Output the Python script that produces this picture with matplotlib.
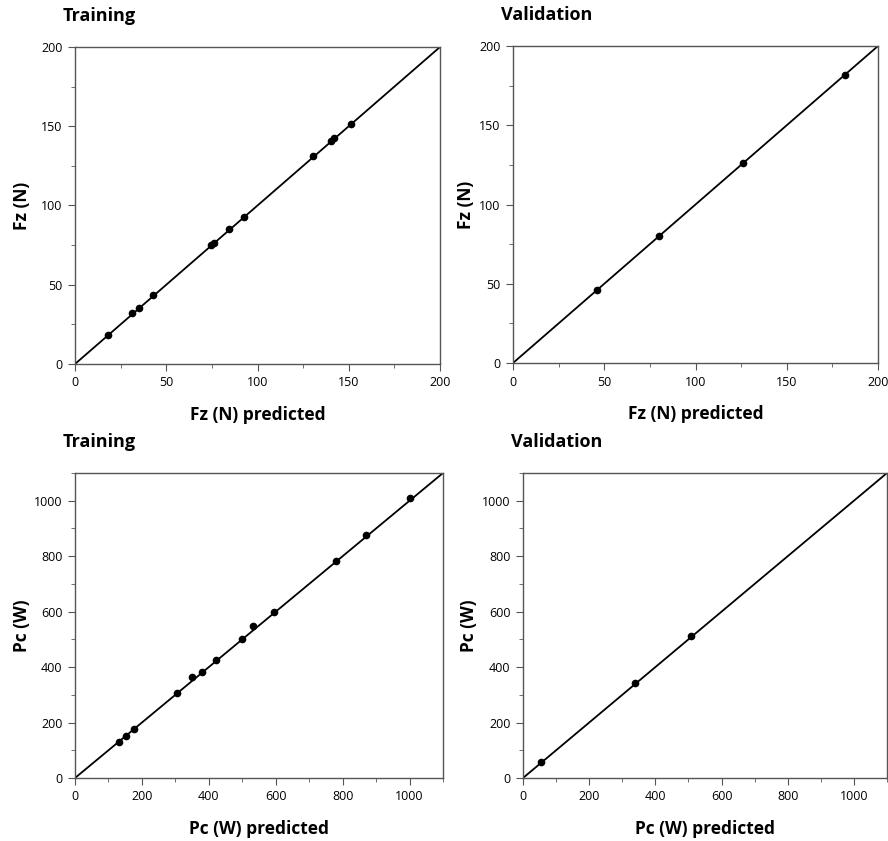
import matplotlib
matplotlib.use("Agg")
import matplotlib.pyplot as plt
from matplotlib.ticker import MultipleLocator

plt.rcParams['font.family'] = ['Open Sans', 'DejaVu Sans']

# Fz training / validation (predicted vs actual)
fz_train_pred = [18, 31, 35, 43, 74.5, 76, 84.5, 92.5, 130.5, 140, 142, 151]
fz_train_act = [18.5, 32, 35.5, 43.5, 75, 76.5, 85, 93, 131, 140.5, 142.5, 151.5]
fz_val_pred = [46, 80, 126, 182]
fz_val_act = [46, 80, 126, 182]

# Pc training / validation
pc_train_pred = [132, 153, 175, 306, 350, 380, 421, 499, 533, 595, 779, 871, 1001]
pc_train_act = [131, 153, 176, 308, 363, 381, 424, 501, 549, 598, 784, 876, 1010]
pc_val_pred = [54, 338, 509]
pc_val_act = [57, 341, 512]

fig = plt.figure(figsize=(8.88, 8.41), dpi=100)

W, H = 888.0, 841.0
panels = [
    # (left, top, right, bottom) in px, ylabel right edge px, pred, act, lim, major, minor, title, var
    ((75, 47, 440, 364), 31, fz_train_pred, fz_train_act, 200, 50, 25, "Training", "Fz (N)"),
    ((513, 46, 878, 363), 475, fz_val_pred, fz_val_act, 200, 50, 25, "Validation", "Fz (N)"),
    ((75, 473, 443, 778), 31, pc_train_pred, pc_train_act, 1100, 200, 100, "Training", "Pc (W)"),
    ((523, 473, 887, 778), 478, pc_val_pred, pc_val_act, 1100, 200, 100, "Validation", "Pc (W)"),
]

for (l, t, r, b), ylx, xp, ya, lim, maj, mnr, title, var in panels:
    ax = fig.add_axes([l / W, 1 - b / H, (r - l) / W, (b - t) / H])
    ax.plot([0, lim], [0, lim], color='black', lw=1.3, zorder=2)
    ax.plot(xp, ya, 'o', color='black', ms=4.5, zorder=3)
    ax.set_xlim(0, lim)
    ax.set_ylim(0, lim)
    ax.xaxis.set_major_locator(MultipleLocator(maj))
    ax.xaxis.set_minor_locator(MultipleLocator(mnr))
    ax.yaxis.set_major_locator(MultipleLocator(maj))
    ax.yaxis.set_minor_locator(MultipleLocator(mnr))
    for s in ax.spines.values():
        s.set_color('#555555')
        s.set_linewidth(1.0)
    ax.tick_params(which='major', direction='out', length=5, color='#555555',
                   labelsize=9, pad=4)
    ax.tick_params(which='minor', direction='out', length=3, color='#555555')
    ax.set_xlabel(var + " predicted", fontsize=12.5, fontweight='bold', labelpad=12)
    ax.set_ylabel(var, fontsize=12.5, fontweight='bold')
    ax.yaxis.set_label_coords((ylx - l) / (r - l), 0.5)
    ax.text(-12 / (r - l), 1 + 22 / (b - t), title, transform=ax.transAxes,
            fontsize=13, fontweight='bold', ha='left', va='bottom')

fig.savefig("out.png", dpi=100)
